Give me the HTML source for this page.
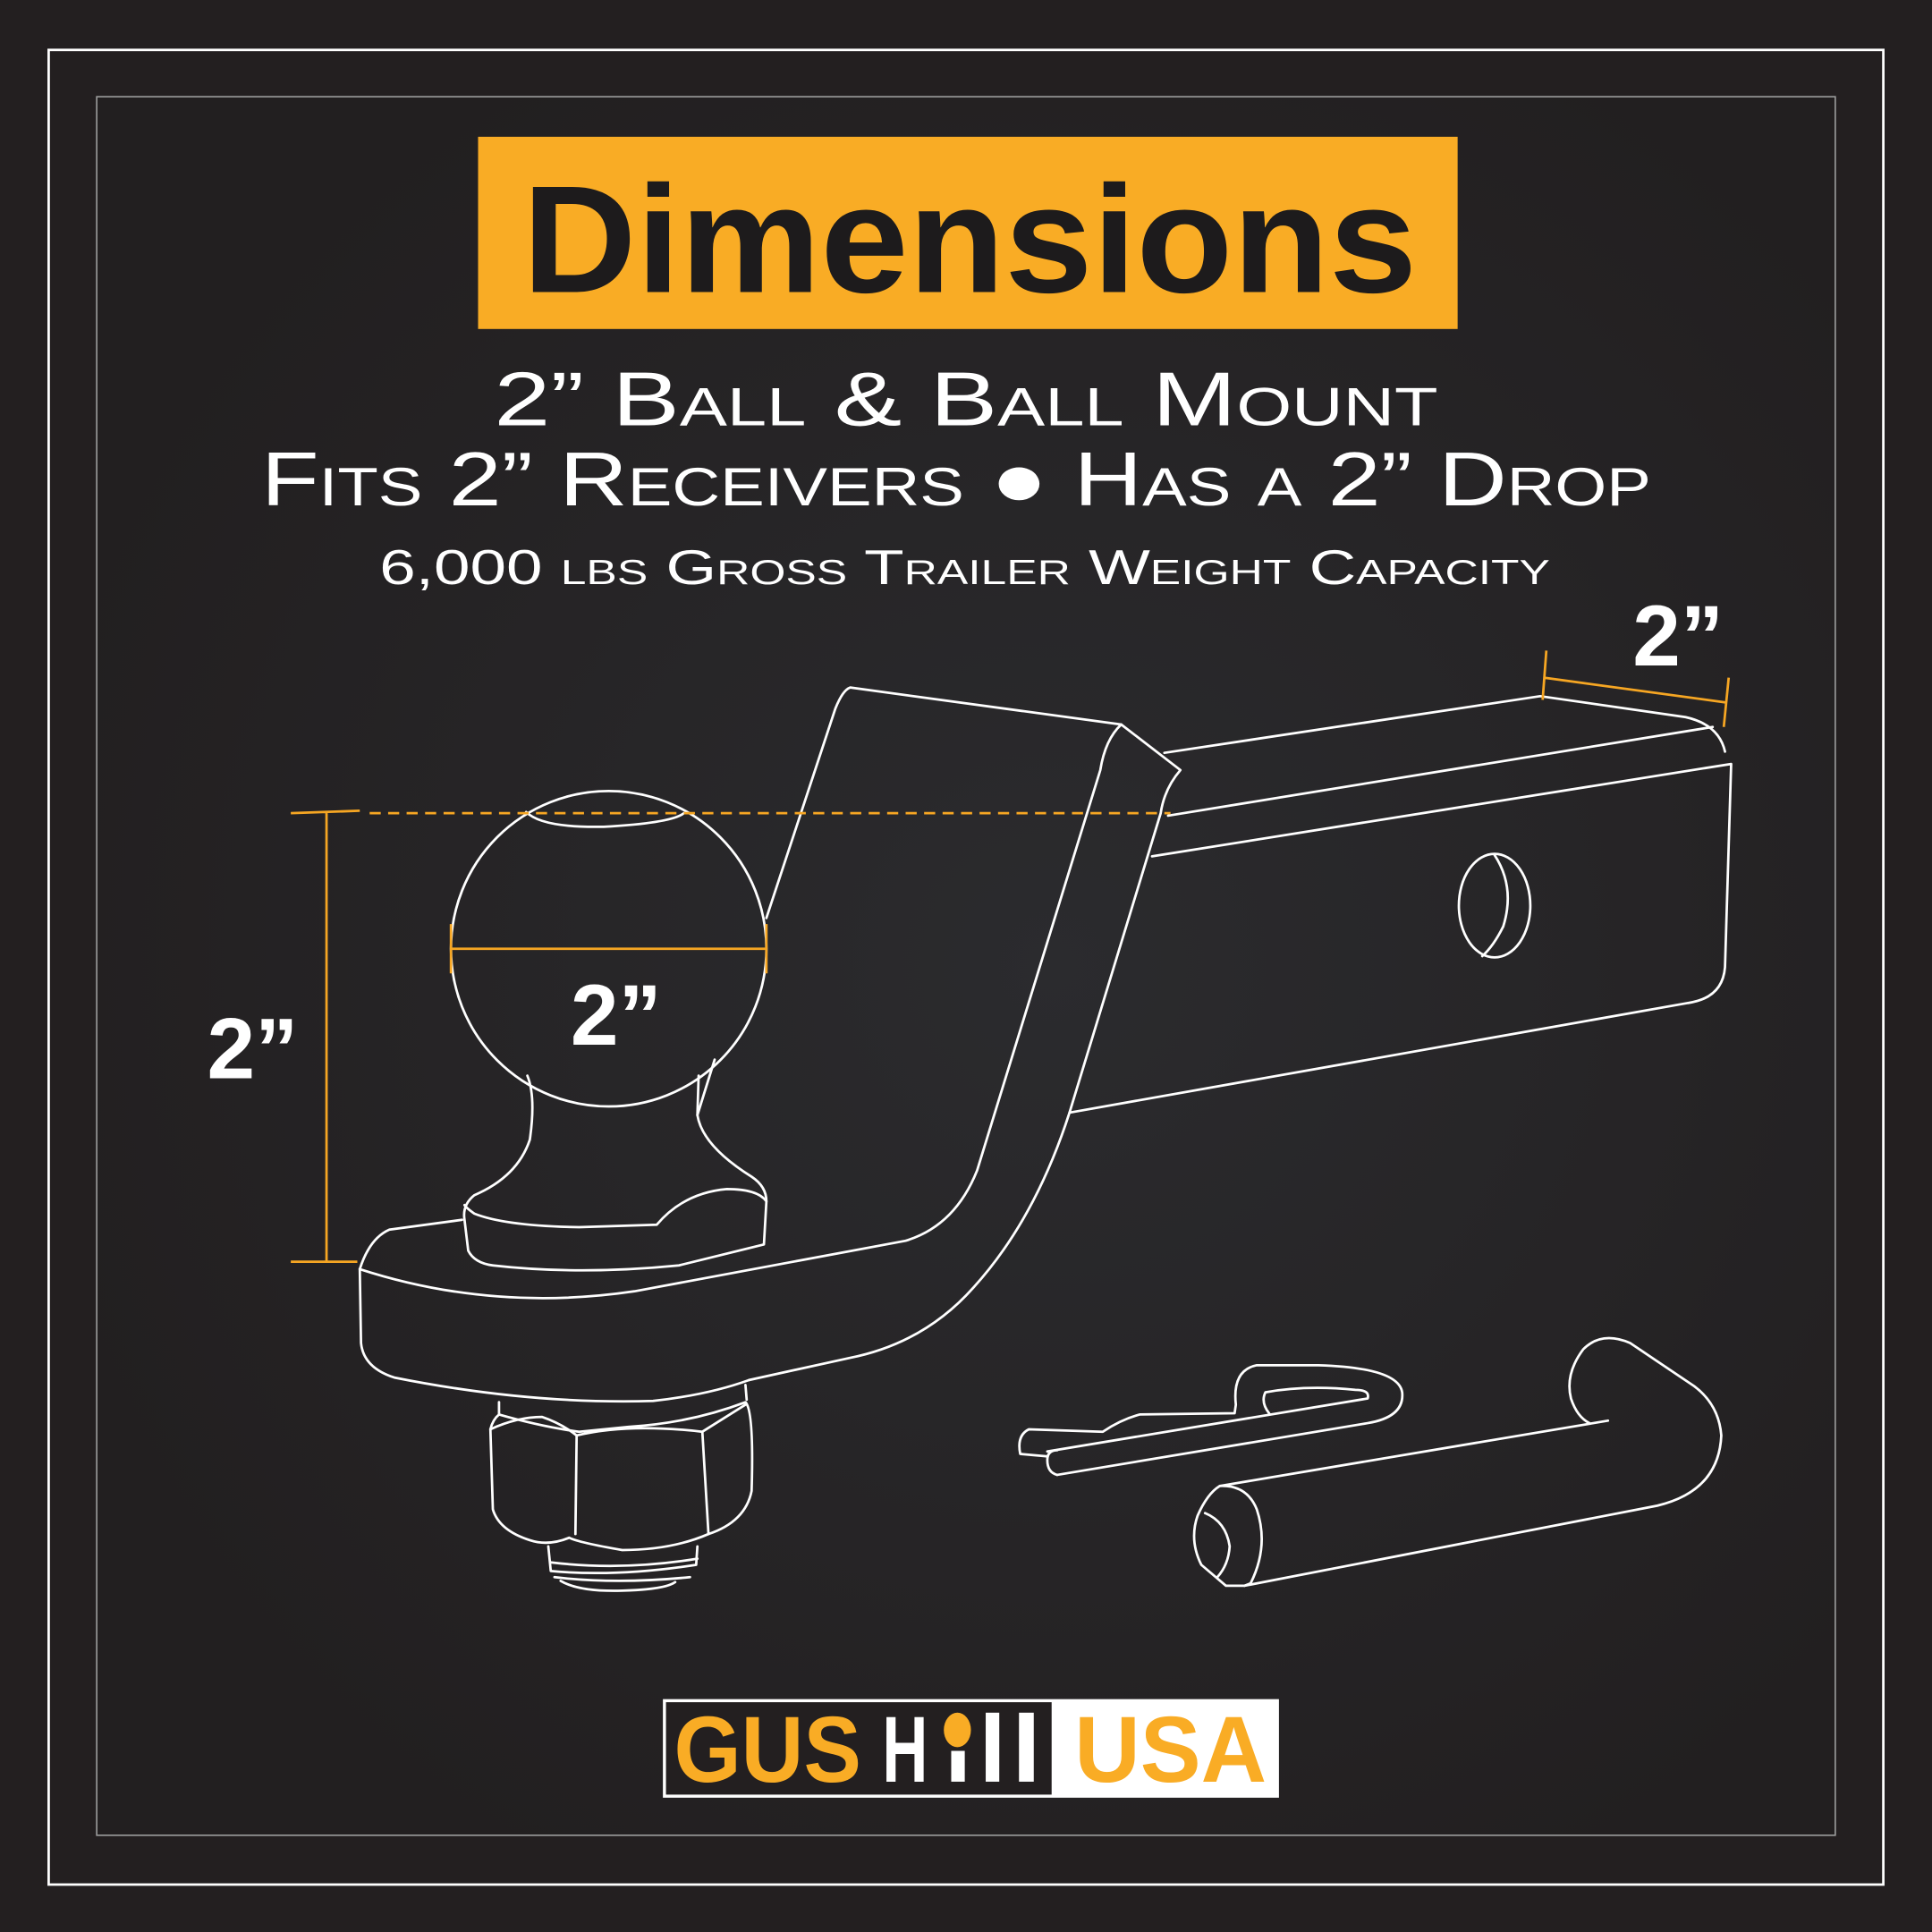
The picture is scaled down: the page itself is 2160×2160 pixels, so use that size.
<!DOCTYPE html>
<html><head><meta charset="utf-8"><style>
html,body{margin:0;padding:0;background:#231f20;}
svg{display:block}
</style></head><body>
<svg width="2160" height="2160" viewBox="0 0 1568 1568" xmlns="http://www.w3.org/2000/svg">
<defs>
<radialGradient id="bg" cx="0.55" cy="0.5" r="0.6">
<stop offset="0" stop-color="#2b2b2e"/><stop offset="1" stop-color="#221f20"/>
</radialGradient>
</defs>
<rect width="1568" height="1568" fill="#231f20"/>
<rect x="78" y="78" width="1412" height="1412" fill="url(#bg)"/>
<rect x="39.5" y="40.5" width="1489" height="1489" fill="none" stroke="#fff" stroke-width="2"/>
<rect x="78.5" y="78.5" width="1411" height="1411" fill="none" stroke="#9a9a9a" stroke-width="1.2"/>

<rect x="388" y="111" width="795" height="156" fill="#f9ac25"/>
<text x="787" y="237" text-anchor="middle" font-family="Liberation Sans, sans-serif" font-weight="bold" font-size="124" fill="#1d1b1c" textLength="726" lengthAdjust="spacingAndGlyphs">Dimensions</text>

<g font-family="Liberation Sans, sans-serif" fill="#fff" text-anchor="middle" style="font-variant:small-caps">
<text x="784" y="345" font-size="62" textLength="766" lengthAdjust="spacingAndGlyphs">2” Ball &amp; Ball Mount</text>
<text x="776" y="410" font-size="62" textLength="1128" lengthAdjust="spacingAndGlyphs">Fits 2” Receivers ● Has a 2” Drop</text>
<text x="783" y="474" font-size="40" textLength="950" lengthAdjust="spacingAndGlyphs">6,000 lbs Gross Trailer Weight Capacity</text>
</g>

<g fill="none" stroke="#fff" stroke-width="2" stroke-linejoin="round" stroke-linecap="round">
<path d="M945 611 L1250 565 L1368 582 Q1395 588 1400 610"/>
<path d="M948 662 L1390 590"/>
<path d="M935 695 L1405 620 L1400 785 Q1398 810 1370 814 L868 903"/>
<ellipse cx="1213" cy="735" rx="29" ry="42"/>
<path d="M1213 694 Q1230 720 1220 752 Q1212 768 1203 776"/>
<path d="M622 745 L678 575 Q684 560 690 558 L910 588 L958 625 Q945 640 942 660 L868 903 Q840 990 790 1045 Q750 1090 690 1102 L608 1120"/>
<path d="M910 588 Q897 600 893 625 L793 950 Q775 995 735 1007 L515 1048 Q400 1065 292 1030"/>
<path d="M292 1030 Q300 1005 316 998 L375 990"/>
<path d="M292 1030 L293 1090 Q295 1110 320 1118 Q430 1140 530 1137 Q575 1132 608 1120"/>
<circle cx="494" cy="770" r="128"/>
<path d="M427 659 Q440 672 490 671 Q545 668 555 660"/>
<path d="M428 873 Q435 890 430 925 Q420 955 385 970 Q375 978 377 990 L380 1015 Q385 1025 400 1027 Q470 1035 551 1027 L620 1010 L622 975 Q615 965 590 965 Q555 968 533 994 L470 996 Q410 995 385 985 Q378 980 377 978"/>
<path d="M567 873 L566 905 Q570 930 610 955 Q622 963 622 975"/>
<path d="M566 905 L580 860"/>
<path d="M405 1138 L405 1148 M605 1124 L606 1136"/>
<path d="M405 1148 Q440 1158 470 1162 L510 1158 Q560 1155 605 1138 Q612 1145 610 1210 Q605 1235 575 1245 Q545 1258 505 1258 Q470 1252 462 1248 Q445 1255 430 1250 Q405 1242 400 1225 L398 1160 Q400 1152 405 1148"/>
<path d="M398 1160 Q420 1150 440 1150 Q455 1155 468 1165 Q510 1155 570 1162 L605 1140"/>
<path d="M468 1165 L467 1245 M570 1162 L575 1245"/>
<path d="M445 1255 L447 1275 Q500 1280 565 1270 L566 1255"/>
<path d="M447 1268 Q505 1275 566 1265 M450 1280 Q500 1286 560 1280 M455 1283 Q470 1292 505 1291 Q540 1290 548 1284"/>
<path d="M850 1178 L1110 1135 Q1112 1128 1100 1128 Q1060 1124 1027 1130 Q1023 1138 1030 1147"/>
<path d="M858 1197 L1110 1155 Q1140 1150 1138 1130 Q1135 1110 1070 1108 L1020 1108 Q1000 1112 1003 1140 L1002 1147 L925 1148 Q910 1152 895 1162 L835 1160 Q825 1165 828 1180 L850 1182"/>
<path d="M858 1197 Q850 1195 850 1185 Q850 1177 858 1177"/>
<path d="M990 1206 L1305 1153"/>
<path d="M1010 1287 L1345 1222 Q1395 1210 1397 1165 Q1395 1140 1375 1125 L1323 1090 Q1300 1080 1285 1095 Q1270 1115 1275 1135 Q1280 1150 1290 1155"/>
<path d="M990 1206 Q1012 1205 1020 1225 Q1030 1255 1015 1285 L1010 1287 L995 1287 L975 1270 Q965 1250 972 1230 Q980 1212 990 1206"/>
<path d="M978 1228 Q995 1235 998 1255 Q997 1270 988 1280"/>
</g>

<g stroke="#f6a623" stroke-width="2" fill="none">
<path d="M265 660 L265 1023 M236 660 L292 658 M236 1024 L290 1024"/>
<path d="M300 660 L950 660" stroke-dasharray="9 6"/>
<path d="M366 770 L622 770 M366 750 L366 790 M622 750 L622 790"/>
<path d="M1253 550 L1400 570 M1255 528 L1252 568 M1403 550 L1399 590"/>
</g>
<g font-family="Liberation Sans, sans-serif" font-weight="bold" fill="#fff" font-size="70" text-anchor="middle">
<text x="205" y="875">2”</text>
<text x="500" y="848">2”</text>
<text x="1362" y="540">2”</text>
</g>

<rect x="538" y="1379" width="500" height="80" fill="#fff"/>
<rect x="540.5" y="1381.5" width="313" height="75" fill="#231f20"/>
<g font-family="Liberation Sans, sans-serif" font-weight="bold" font-size="76">
<text x="547" y="1446" fill="#f9ac25" textLength="152" lengthAdjust="spacingAndGlyphs">GUS</text>
<text x="716" y="1446" fill="#fff" textLength="37" lengthAdjust="spacingAndGlyphs">H</text>
<rect x="772" y="1421" width="11" height="25" fill="#fff"/>
<ellipse cx="777" cy="1404" rx="11" ry="14" fill="#f9ac25"/>
<rect x="800" y="1390" width="11" height="56" fill="#fff"/>
<rect x="827" y="1390" width="12" height="56" fill="#fff"/>
<text x="872" y="1446" fill="#f9ac25" textLength="156" lengthAdjust="spacingAndGlyphs">USA</text>
</g>
</svg>
</body></html>
